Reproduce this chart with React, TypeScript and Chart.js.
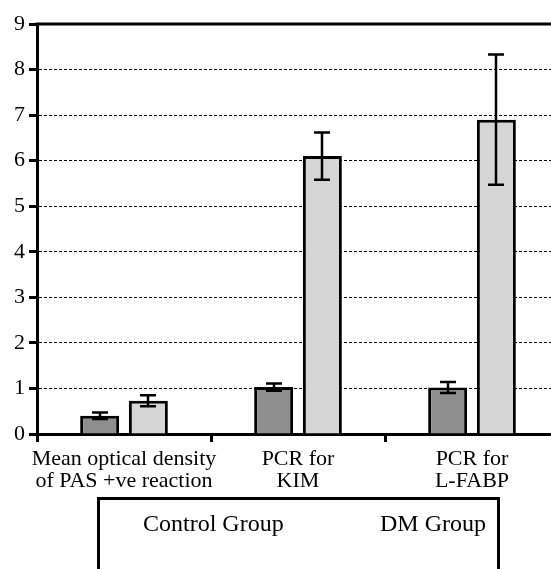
import React, { useEffect, useRef } from "react";
import { Chart, registerables } from "chart.js";

Chart.register(...registerables);

const categories: string[][] = [
  ["Mean optical density", "of PAS +ve reaction"],
  ["PCR for", "KIM"],
  ["PCR for", "L-FABP"],
];
const controlValues = [0.4, 1.03, 1.02];
const controlErrors = [0.07, 0.08, 0.12];
const dmValues = [0.73, 6.1, 6.9];
const dmErrors = [0.12, 0.52, 1.43];
const seriesNames = ["Control Group", "DM Group"];
const yTicks = [0, 1, 2, 3, 4, 5, 6, 7, 8, 9];

const FONT = "'Liberation Serif', 'Times New Roman', serif";

const errorBarPlugin = {
  id: "errorBars",
  afterDatasetsDraw(chart: any) {
    const { ctx, scales } = chart;
    const y = scales.y;
    chart.data.datasets.forEach((ds: any, di: number) => {
      const meta = chart.getDatasetMeta(di);
      const errs: number[] = ds.errors || [];
      meta.data.forEach((bar: any, i: number) => {
        const v = ds.data[i];
        const e = errs[i] || 0;
        const x = Math.round(bar.x);
        const yt = y.getPixelForValue(v + e);
        const yb = y.getPixelForValue(v - e);
        ctx.save();
        ctx.strokeStyle = "#000";
        ctx.lineWidth = 2.5;
        ctx.beginPath();
        ctx.moveTo(x, yt);
        ctx.lineTo(x, yb);
        ctx.moveTo(x - 8, yt);
        ctx.lineTo(x + 8, yt);
        ctx.moveTo(x - 8, yb);
        ctx.lineTo(x + 8, yb);
        ctx.stroke();
        ctx.restore();
      });
    });
  },
  afterDraw(chart: any) {
    const { ctx, chartArea, scales } = chart;
    const yTop = scales.y.getPixelForValue(yTicks[yTicks.length - 1]);
    ctx.save();
    ctx.strokeStyle = "#000";
    ctx.lineWidth = 3;
    ctx.beginPath();
    ctx.moveTo(chartArea.left - 1.5, yTop);
    ctx.lineTo(chartArea.right, yTop);
    ctx.stroke();
    ctx.restore();
  },
};

export default function App() {
  const canvasRef = useRef<HTMLCanvasElement | null>(null);

  useEffect(() => {
    const canvas = canvasRef.current;
    if (!canvas) return;
    const chart = new Chart(canvas, {
      type: "bar",
      data: {
        labels: categories,
        datasets: [
          {
            label: seriesNames[0],
            data: controlValues,
            errors: controlErrors,
            backgroundColor: "#8e8e8e",
            borderColor: "#000",
            borderWidth: 3,
            categoryPercentage: 0.56,
            barPercentage: 0.8,
          } as any,
          {
            label: seriesNames[1],
            data: dmValues,
            errors: dmErrors,
            backgroundColor: "#d5d5d5",
            borderColor: "#000",
            borderWidth: 3,
            categoryPercentage: 0.56,
            barPercentage: 0.8,
          } as any,
        ],
      },
      options: {
        responsive: false,
        animation: false,
        devicePixelRatio: 1,
        layout: { padding: { top: 24, left: 1, right: 0, bottom: 0 } },
        plugins: {
          legend: { display: false },
          tooltip: { enabled: false },
        },
        scales: {
          x: {
            afterFit: (s: any) => {
              s.height = 66;
            },
            grid: {
              offset: true,
              drawOnChartArea: false,
              drawTicks: true,
              tickLength: 8,
              tickWidth: 3,
              tickColor: "#000",
              color: "#000",
            },
            border: { display: true, color: "#000", width: 3 },
            ticks: {
              color: "#000",
              padding: 6,
              maxRotation: 0,
              autoSkip: false,
              font: { family: FONT, size: 22, lineHeight: 1.0 },
            },
          },
          y: {
            min: 0,
            max: 9,
            afterFit: (s: any) => {
              s.width = 36;
            },
            grid: {
              color: (c: any) =>
                c.tick && (c.tick.value === 0 || c.tick.value === 9)
                  ? "rgba(0,0,0,0)"
                  : "#000",
              lineWidth: 1,
              drawTicks: true,
              tickLength: 8,
              tickWidth: 3,
              tickColor: "#000",
            },
            border: { display: true, color: "#000", width: 3, dash: [3, 2] },
            afterBuildTicks: (s: any) => {
              s.ticks = yTicks.map((v) => ({ value: v }));
            },
            ticks: {
              color: "#000",
              padding: 4,
              font: { family: FONT, size: 22 },
            },
          },
        },
      },
      plugins: [errorBarPlugin],
    } as any);
    return () => chart.destroy();
  }, []);

  const legendText: React.CSSProperties = {
    position: "absolute",
    top: 511,
    fontFamily: FONT,
    fontSize: 24,
    lineHeight: "24px",
    color: "#000",
    whiteSpace: "nowrap",
  };

  return (
    <div
      style={{
        position: "absolute",
        left: 0,
        top: 0,
        width: 551,
        height: 569,
        overflow: "hidden",
        background: "#fff",
      }}
    >
      <canvas
        ref={canvasRef}
        width={559}
        height={500}
        style={{ position: "absolute", left: 0, top: 0, width: 559, height: 500 }}
      />
      <div
        style={{
          position: "absolute",
          left: 97,
          top: 497,
          width: 403,
          height: 120,
          border: "3px solid #000",
          boxSizing: "border-box",
        }}
      />
      <span style={{ ...legendText, left: 143 }}>{seriesNames[0]}</span>
      <span style={{ ...legendText, left: 380 }}>{seriesNames[1]}</span>
    </div>
  );
}
